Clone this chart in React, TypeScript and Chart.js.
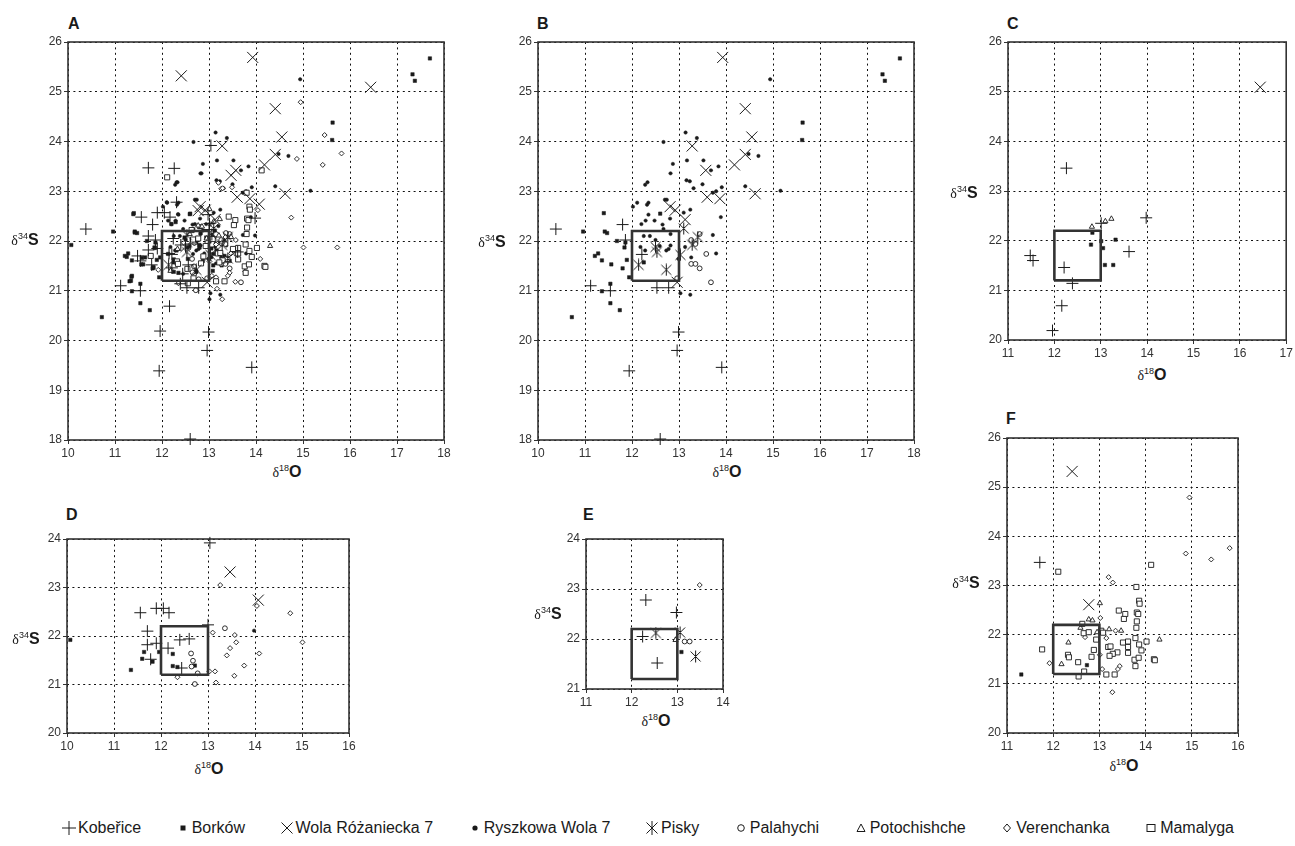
import React, { useEffect, useRef } from 'react';
import { Chart, registerables } from 'chart.js';

Chart.register(...registerables);
Chart.defaults.font.family = '"Liberation Sans", Arial, sans-serif';

type Pt = [number, number];

const SERIES_NAMES = [
  'Kobeřice', 'Borków', 'Wola Różaniecka 7', 'Ryszkowa Wola 7', 'Pisky',
  'Palahychi', 'Potochishche', 'Verenchanka', 'Mamalyga',
];

const PANEL_LABELS = ['A', 'B', 'C', 'D', 'E', 'F'];

// reference box (x 12–13, y 21.2–22.2)
const BOX_X = [12, 13];
const BOX_Y = [21.2, 22.2];

// ---------- Panel B ----------
const B_KOBERICE: Pt[] = [[10.38, 22.24], [11.8, 22.33], [11.86, 22.02], [11.12, 21.1], [11.54, 21.0], [12.21, 21.73], [12.53, 21.06], [12.78, 21.06], [12.99, 20.17], [12.96, 19.8], [11.94, 19.39], [13.91, 19.46], [12.6, 18.02]];
const B_BORKOW: Pt[] = [[10.72, 20.47], [10.96, 22.19], [11.4, 22.56], [11.42, 22.19], [11.47, 22.16], [11.21, 21.7], [11.28, 21.75], [11.36, 21.61], [11.56, 21.53], [11.68, 22.0], [11.86, 21.97], [11.84, 21.87], [11.89, 21.62], [11.8, 21.45], [11.94, 21.27], [11.36, 20.99], [11.54, 21.14], [11.54, 20.75], [11.74, 20.61], [12.6, 22.55], [12.25, 21.57], [15.63, 24.38], [15.62, 24.03], [17.33, 25.35], [17.38, 25.22], [17.7, 25.67]];
const B_WOLA: Pt[] = [[13.93, 25.69], [14.41, 24.66], [14.55, 24.09], [14.41, 23.74], [14.18, 23.53], [14.62, 22.95], [13.28, 23.91], [13.57, 23.42], [13.6, 22.88], [13.87, 22.85], [12.81, 22.69], [12.92, 22.62], [13.13, 22.43], [12.96, 21.17]];
const B_RYSZKOWA: Pt[] = [[12.67, 23.99], [12.87, 23.55], [12.82, 23.36], [12.28, 23.13], [12.33, 23.18], [12.02, 22.69], [12.11, 22.77], [12.32, 22.73], [12.35, 22.77], [12.2, 22.34], [12.29, 22.41], [12.35, 22.53], [12.48, 22.41], [12.7, 22.83], [12.74, 22.83], [12.81, 22.45], [12.65, 22.33], [12.67, 22.24], [12.25, 22.1], [12.38, 22.1], [12.5, 22.02], [12.59, 21.9], [12.82, 21.91], [12.73, 21.81], [12.78, 21.84], [12.82, 22.14], [12.18, 21.88], [12.28, 21.81], [13.1, 22.57], [13.24, 22.63], [13.14, 24.18], [13.38, 24.07], [13.17, 23.62], [13.16, 23.22], [13.23, 23.2], [13.31, 23.06], [13.5, 23.14], [13.52, 23.62], [13.68, 23.42], [13.84, 23.5], [13.72, 22.97], [13.79, 23.0], [13.91, 23.08], [13.89, 22.48], [13.72, 22.12], [13.79, 21.75], [14.41, 23.1], [14.48, 23.75], [14.69, 23.71], [14.94, 25.25], [15.16, 23.01], [13.26, 21.67], [13.03, 20.95], [13.24, 20.92], [13.13, 21.88], [12.99, 21.64]];
const B_PISKY: Pt[] = [[13.1, 22.25], [12.5, 21.88], [12.53, 21.78], [12.14, 21.52], [12.73, 21.42], [13.03, 21.72], [13.28, 21.92], [13.4, 22.08]];
const B_PALAHYCHI: Pt[] = [[13.26, 22.02], [13.35, 21.94], [13.44, 22.14], [13.58, 21.74], [13.26, 21.54], [13.35, 21.54], [13.44, 21.45], [13.68, 21.17], [12.96, 21.25]];

// ---------- Panel C ----------
const C_KOBERICE: Pt[] = [[12.26, 23.46], [11.48, 21.7], [11.54, 21.6], [12.21, 21.46], [12.39, 21.14], [12.16, 20.69], [11.96, 20.19], [13.61, 21.78], [13.98, 22.46], [13.01, 22.35]];
const C_BORKOW: Pt[] = [[12.82, 22.16], [12.79, 21.92], [13.01, 21.99], [13.05, 21.85], [13.09, 21.51], [13.27, 21.51], [13.32, 22.02]];
const C_WOLA: Pt[] = [[16.44, 25.09]];
const C_POTOCHISHCHE: Pt[] = [[12.81, 22.28], [13.1, 22.39], [13.23, 22.44]];

// ---------- Panel D ----------
const D_KOBERICE: Pt[] = [[13.04, 23.92], [11.56, 22.48], [11.9, 22.57], [12.05, 22.57], [12.17, 22.48], [11.71, 22.1], [11.71, 21.82], [11.9, 21.85], [12.4, 21.92], [12.6, 21.94], [12.15, 21.75], [11.78, 21.52], [12.44, 21.34], [13.0, 22.23]];
const D_BORKOW: Pt[] = [[10.07, 21.92], [11.36, 21.3], [11.6, 21.53], [11.64, 21.67], [11.82, 21.47], [11.96, 21.67], [12.25, 21.63], [12.25, 21.38], [12.35, 21.36], [12.72, 21.39]];
const D_WOLA: Pt[] = [[13.47, 23.32], [14.07, 22.74]];
const D_RYSZKOWA: Pt[] = [[13.98, 22.11]];
const D_PALAHYCHI: Pt[] = [[12.64, 21.64], [12.68, 21.49], [12.65, 21.37], [13.36, 22.16], [12.78, 21.23], [12.72, 21.01]];
const D_VERENCHANKA: Pt[] = [[13.26, 23.05], [13.1, 22.07], [13.57, 22.02], [13.6, 21.87], [13.47, 21.75], [13.4, 21.6], [13.77, 21.39], [13.56, 21.18], [14.09, 21.64], [14.04, 22.62], [14.75, 22.47], [15.01, 21.87], [13.15, 21.27], [13.17, 21.04], [12.35, 21.15], [13.03, 21.27]];

// ---------- Panel E ----------
const E_KOBERICE: Pt[] = [[12.31, 22.78], [12.98, 22.53], [12.24, 22.05], [12.56, 21.52]];
const E_BORKOW: Pt[] = [[13.09, 21.74]];
const E_PISKY: Pt[] = [[12.53, 22.12], [13.06, 22.13], [13.4, 21.65]];
const E_PALAHYCHI: Pt[] = [[13.16, 21.95], [13.27, 21.95]];
const E_POTOCHISHCHE: Pt[] = [[12.96, 21.98]];
const E_VERENCHANKA: Pt[] = [[13.49, 23.08]];

// ---------- Panel F ----------
const F_KOBERICE: Pt[] = [[11.71, 23.47]];
const F_BORKOW: Pt[] = [[11.31, 21.19], [12.73, 21.38]];
const F_WOLA: Pt[] = [[12.41, 25.32], [12.77, 22.61]];
const F_POTOCHISHCHE: Pt[] = [[13.01, 22.64], [12.77, 22.31], [12.85, 22.29], [13.21, 22.11], [13.47, 22.08], [12.33, 21.84], [12.18, 21.4], [14.3, 21.9], [12.59, 22.14], [12.95, 22.05]];
const F_VERENCHANKA: Pt[] = [[14.95, 24.79], [14.87, 23.65], [15.42, 23.53], [15.82, 23.76], [13.2, 23.17], [13.29, 23.06], [13.02, 22.34], [11.92, 21.42], [13.28, 20.83], [13.44, 21.36], [13.4, 21.3], [13.35, 22.08], [12.69, 21.95], [13.15, 21.93], [13.06, 21.3], [13.01, 21.59]];
const F_MAMALYGA: Pt[] = [[12.11, 23.28], [11.76, 21.7], [13.8, 22.97], [13.86, 22.69], [13.87, 22.63], [13.42, 22.49], [13.56, 22.42], [13.53, 22.32], [13.81, 22.45], [13.84, 22.42], [13.81, 22.27], [13.8, 22.14], [13.78, 21.93], [13.62, 21.86], [13.51, 21.84], [13.62, 21.75], [13.62, 21.63], [13.86, 21.8], [13.91, 21.68], [14.02, 21.86], [13.76, 21.49], [13.85, 21.53], [13.78, 21.36], [14.18, 21.5], [14.2, 21.48], [13.39, 21.64], [13.29, 21.61], [13.22, 21.57], [13.19, 21.75], [13.24, 21.76], [13.15, 21.19], [13.33, 21.19], [12.63, 22.22], [12.66, 22.03], [12.77, 22.05], [12.93, 21.9], [13.04, 22.08], [12.83, 21.55], [12.32, 21.59], [12.34, 21.54], [12.54, 21.44], [12.67, 21.25], [12.55, 21.15], [12.88, 21.69], [13.08, 22.04], [14.12, 23.42]];

// ---------- Panel A: points seen only in the overview ----------
const A_EXTRA_BORKOW: Pt[] = [[11.39, 22.54], [11.42, 22.17], [11.25, 21.68], [11.57, 21.66], [11.35, 21.28], [11.34, 21.2], [11.85, 21.86], [11.81, 21.47], [12.2, 22.34], [12.29, 22.38], [12.59, 22.54], [12.8, 22.28], [12.48, 22.07], [12.73, 21.97], [12.31, 21.81], [12.8, 21.87], [12.94, 22.07], [13.12, 22.21], [13.16, 21.81], [13.23, 21.57], [13.33, 21.7], [13.44, 21.6], [13.08, 21.4], [12.55, 21.64], [12.31, 21.57], [12.87, 21.6], [12.13, 21.74]];
const A_EXTRA_RYSZKOWA: Pt[] = [[12.84, 23.36], [12.31, 23.18], [12.1, 22.78], [12.13, 22.41], [12.34, 22.54], [12.45, 22.24], [12.7, 22.34], [12.87, 22.21], [12.55, 21.87], [12.66, 21.74], [12.94, 22.34], [13.23, 21.97], [13.37, 21.91], [13.47, 21.77], [13.05, 21.67], [12.73, 21.4], [12.45, 21.34], [13.01, 20.83], [13.2, 22.3], [13.05, 22.1], [12.9, 21.75], [13.15, 21.55]];
const A_EXTRA_VERENCHANKA: Pt[] = [[15.46, 24.13], [15.73, 21.87]];

const MARKERS: Record<string, { style: any; r: number; bw: number; fill: string }> = {
  'Kobeřice': { style: 'cross', r: 6, bw: 1, fill: 'transparent' },
  'Borków': { style: 'rect', r: 2.4, bw: 0.5, fill: '#1a1a1a' },
  'Wola Różaniecka 7': { style: 'crossRot', r: 7.8, bw: 1, fill: 'transparent' },
  'Ryszkowa Wola 7': { style: 'circle', r: 1.7, bw: 0.5, fill: '#1a1a1a' },
  'Pisky': { style: 'pisky', r: 6, bw: 1, fill: 'transparent' },
  'Palahychi': { style: 'circle', r: 2.4, bw: 0.9, fill: '#ffffff' },
  'Potochishche': { style: 'triangle', r: 3, bw: 0.9, fill: '#ffffff' },
  'Verenchanka': { style: 'rectRot', r: 2.5, bw: 0.9, fill: '#ffffff' },
  'Mamalyga': { style: 'rect', r: 3.6, bw: 0.9, fill: '#ffffff' },
};

// drawing order: first listed is drawn on top
const DRAW_ORDER = ['Kobeřice', 'Wola Różaniecka 7', 'Pisky', 'Mamalyga', 'Verenchanka', 'Potochishche', 'Palahychi', 'Ryszkowa Wola 7', 'Borków'];

type Panel = {
  label: string;
  plot: { l: number; t: number; r: number; b: number };
  padR: number;
  x: [number, number];
  y: [number, number];
  series: Record<string, Pt[]>;
  yTitle: [number, number];
  xTitle: [number, number];
  letter: [number, number];
};

const B_SERIES = { 'Kobeřice': B_KOBERICE, 'Borków': B_BORKOW, 'Wola Różaniecka 7': B_WOLA, 'Ryszkowa Wola 7': B_RYSZKOWA, 'Pisky': B_PISKY, 'Palahychi': B_PALAHYCHI };
const C_SERIES = { 'Kobeřice': C_KOBERICE, 'Borków': C_BORKOW, 'Wola Różaniecka 7': C_WOLA, 'Potochishche': C_POTOCHISHCHE };
const D_SERIES = { 'Kobeřice': D_KOBERICE, 'Borków': D_BORKOW, 'Wola Różaniecka 7': D_WOLA, 'Ryszkowa Wola 7': D_RYSZKOWA, 'Palahychi': D_PALAHYCHI, 'Verenchanka': D_VERENCHANKA };
const E_SERIES = { 'Kobeřice': E_KOBERICE, 'Borków': E_BORKOW, 'Pisky': E_PISKY, 'Palahychi': E_PALAHYCHI, 'Potochishche': E_POTOCHISHCHE, 'Verenchanka': E_VERENCHANKA };
const F_SERIES = { 'Kobeřice': F_KOBERICE, 'Borków': F_BORKOW, 'Wola Różaniecka 7': F_WOLA, 'Potochishche': F_POTOCHISHCHE, 'Verenchanka': F_VERENCHANKA, 'Mamalyga': F_MAMALYGA };
const A_EXTRA = { 'Borków': A_EXTRA_BORKOW, 'Ryszkowa Wola 7': A_EXTRA_RYSZKOWA, 'Verenchanka': A_EXTRA_VERENCHANKA };

function union(...sets: Record<string, Pt[]>[]): Record<string, Pt[]> {
  const out: Record<string, Pt[]> = {};
  for (const s of sets) for (const k of Object.keys(s)) out[k] = (out[k] || []).concat(s[k]);
  return out;
}
const A_SERIES = union(B_SERIES, C_SERIES, D_SERIES, E_SERIES, F_SERIES, A_EXTRA);

const PANELS: Panel[] = [
  { label: PANEL_LABELS[0], plot: { l: 68, t: 42, r: 444, b: 440 }, padR: 14, x: [10, 18], y: [18, 26], series: A_SERIES, yTitle: [25, 240], xTitle: [287, 472], letter: [68, 16] },
  { label: PANEL_LABELS[1], plot: { l: 538, t: 42, r: 914, b: 440 }, padR: 14, x: [10, 18], y: [18, 26], series: B_SERIES, yTitle: [492, 242], xTitle: [727, 472], letter: [537, 16] },
  { label: PANEL_LABELS[2], plot: { l: 1008, t: 42, r: 1288, b: 340 }, padR: 7, x: [11, 17], y: [20, 26], series: C_SERIES, yTitle: [964, 193], xTitle: [1152, 375], letter: [1007, 16] },
  { label: PANEL_LABELS[3], plot: { l: 67, t: 539, r: 349, b: 733 }, padR: 14, x: [10, 16], y: [20, 24], series: D_SERIES, yTitle: [26, 639], xTitle: [209, 769], letter: [66, 507] },
  { label: PANEL_LABELS[4], plot: { l: 586, t: 539, r: 723, b: 689 }, padR: 14, x: [11, 14], y: [21, 24], series: E_SERIES, yTitle: [548, 614], xTitle: [656, 721], letter: [583, 507] },
  { label: PANEL_LABELS[5], plot: { l: 1007, t: 438, r: 1238, b: 733 }, padR: 14, x: [11, 16], y: [20, 26], series: F_SERIES, yTitle: [966, 583], xTitle: [1124, 766], letter: [1006, 411] },
];

const AX_W = 34;
const AX_H = 22;
const PAD_T = 10;
const INK = '#1a1a1a';

let piskyImg: HTMLCanvasElement | null = null;
function getPisky() {
  if (piskyImg) return piskyImg;
  const c = document.createElement('canvas');
  c.width = 13; c.height = 13;
  const g = c.getContext('2d')!;
  g.strokeStyle = INK; g.lineWidth = 1;
  g.beginPath();
  g.moveTo(1.5, 1.5); g.lineTo(11.5, 11.5);
  g.moveTo(11.5, 1.5); g.lineTo(1.5, 11.5);
  g.moveTo(6.5, 0.5); g.lineTo(6.5, 12.5);
  g.stroke();
  piskyImg = c;
  return c;
}

const framePlugin = {
  id: 'frame',
  beforeDatasetsDraw(chart: any) {
    const { ctx, chartArea } = chart;
    const { left, top, right, bottom } = chartArea;
    ctx.save();
    ctx.strokeStyle = '#333';
    ctx.lineWidth = 1.6;
    ctx.strokeRect(left, top, right - left, bottom - top);
    ctx.restore();
  },
};

function PanelChart({ p }: { p: Panel }) {
  const ref = useRef<HTMLCanvasElement>(null);
  const w = p.plot.r - p.plot.l + AX_W + p.padR;
  const h = p.plot.b - p.plot.t + PAD_T + AX_H;
  useEffect(() => {
    const datasets: any[] = [
      {
        label: 'box',
        data: [
          { x: BOX_X[0], y: BOX_Y[0] }, { x: BOX_X[1], y: BOX_Y[0] }, { x: BOX_X[1], y: BOX_Y[1] },
          { x: BOX_X[0], y: BOX_Y[1] }, { x: BOX_X[0], y: BOX_Y[0] },
        ],
        showLine: true,
        borderColor: '#333',
        borderWidth: 2.6,
        pointRadius: 0,
        fill: false,
      },
    ];
    for (const name of DRAW_ORDER) {
      const pts = p.series[name];
      if (!pts) continue;
      const m = MARKERS[name];
      datasets.push({
        label: name,
        data: pts.map(([x, y]) => ({ x, y })),
        pointStyle: m.style === 'pisky' ? getPisky() : m.style,
        pointRadius: m.r,
        pointBorderWidth: m.bw,
        pointBorderColor: INK,
        pointBackgroundColor: m.fill,
        showLine: false,
        clip: false,
      });
    }
    const tickFont = { size: 12, family: '"Liberation Sans", Arial, sans-serif' };
    const common = {
      type: 'linear',
      ticks: { stepSize: 1, autoSkip: false, maxRotation: 0, font: tickFont, color: '#333', padding: 2 },
      grid: { color: '#111', lineWidth: 1, drawTicks: true, tickLength: 4, tickColor: '#333', tickWidth: 1, tickBorderDash: [] },
      border: { display: false, dash: [2, 3.4] },
    };
    const chart = new Chart(ref.current!, {
      type: 'scatter',
      data: { datasets },
      options: {
        responsive: false,
        animation: false,
        events: [],
        layout: { padding: { top: PAD_T, right: p.padR, left: 0, bottom: 0 } },
        plugins: { legend: { display: false }, tooltip: { enabled: false }, title: { display: false } },
        scales: {
          x: { ...common, min: p.x[0], max: p.x[1], afterFit: (s: any) => { s.height = AX_H; } },
          y: { ...common, min: p.y[0], max: p.y[1], afterFit: (s: any) => { s.width = AX_W; } },
        },
      } as any,
      plugins: [framePlugin],
    });
    return () => chart.destroy();
  }, []);
  return (
    <canvas
      ref={ref}
      width={w}
      height={h}
      style={{ position: 'absolute', left: p.plot.l - AX_W, top: p.plot.t - PAD_T, width: w, height: h }}
    />
  );
}

const FONT = '"Liberation Sans", Arial, sans-serif';

function AxisTitle({ at, sup, letter }: { at: [number, number]; sup: string; letter: string }) {
  return (
    <div style={{ position: 'absolute', left: at[0], top: at[1], transform: 'translate(-50%, -50%)', whiteSpace: 'nowrap', lineHeight: 1, color: INK }}>
      <span style={{ fontFamily: '"Liberation Serif", serif', fontSize: 14 }}>δ</span>
      <span style={{ fontFamily: FONT, fontSize: 9, position: 'relative', top: -6 }}>{sup}</span>
      <span style={{ fontFamily: FONT, fontSize: 16, fontWeight: 'bold' }}>{letter}</span>
    </div>
  );
}

function LegendIcon({ name }: { name: string }) {
  const s = 14, c = 7;
  const st = { stroke: INK, strokeWidth: 1, fill: 'none' } as any;
  let el: any = null;
  switch (name) {
    case 'Kobeřice': el = <g {...st}><line x1={0} y1={c} x2={14} y2={c} /><line x1={c} y1={0} x2={c} y2={14} /></g>; break;
    case 'Borków': el = <rect x={4.5} y={4.5} width={5} height={5} fill={INK} />; break;
    case 'Wola Różaniecka 7': el = <g {...st}><line x1={1.5} y1={1.5} x2={12.5} y2={12.5} /><line x1={12.5} y1={1.5} x2={1.5} y2={12.5} /></g>; break;
    case 'Ryszkowa Wola 7': el = <circle cx={c} cy={c} r={2.6} fill={INK} />; break;
    case 'Pisky': el = <g {...st}><line x1={1.5} y1={1.5} x2={12.5} y2={12.5} /><line x1={12.5} y1={1.5} x2={1.5} y2={12.5} /><line x1={c} y1={0} x2={c} y2={14} /></g>; break;
    case 'Palahychi': el = <circle cx={c} cy={c} r={3.3} {...st} />; break;
    case 'Potochishche': el = <polygon points="7,3 11,10.5 3,10.5" {...st} />; break;
    case 'Verenchanka': el = <polygon points="7,3 10.5,7 7,11 3.5,7" {...st} />; break;
    case 'Mamalyga': el = <rect x={3} y={3.5} width={8} height={7} {...st} />; break;
  }
  return <svg width={s} height={s} style={{ display: 'block', marginRight: 2 }}>{el}</svg>;
}

export default function App() {
  return (
    <div style={{ position: 'absolute', left: 0, top: 0, width: 1295, height: 846, overflow: 'hidden', background: '#fff' }}>
      {PANELS.map((p) => (
        <React.Fragment key={p.label}>
          <PanelChart p={p} />
          <div style={{ position: 'absolute', left: p.letter[0], top: p.letter[1], fontFamily: FONT, fontWeight: 'bold', fontSize: 16, lineHeight: 1, color: INK }}>{p.label}</div>
          <AxisTitle at={p.yTitle} sup="34" letter="S" />
          <AxisTitle at={p.xTitle} sup="18" letter="O" />
        </React.Fragment>
      ))}
      <div style={{ position: 'absolute', left: 62, top: 820, width: 1172, display: 'flex', justifyContent: 'space-between', alignItems: 'center', fontFamily: FONT, fontSize: 16, color: INK, lineHeight: 1 }}>
        {SERIES_NAMES.map((n) => (
          <div key={n} style={{ display: 'flex', alignItems: 'center', whiteSpace: 'nowrap' }}>
            <LegendIcon name={n} />
            <span>{n}</span>
          </div>
        ))}
      </div>
    </div>
  );
}
